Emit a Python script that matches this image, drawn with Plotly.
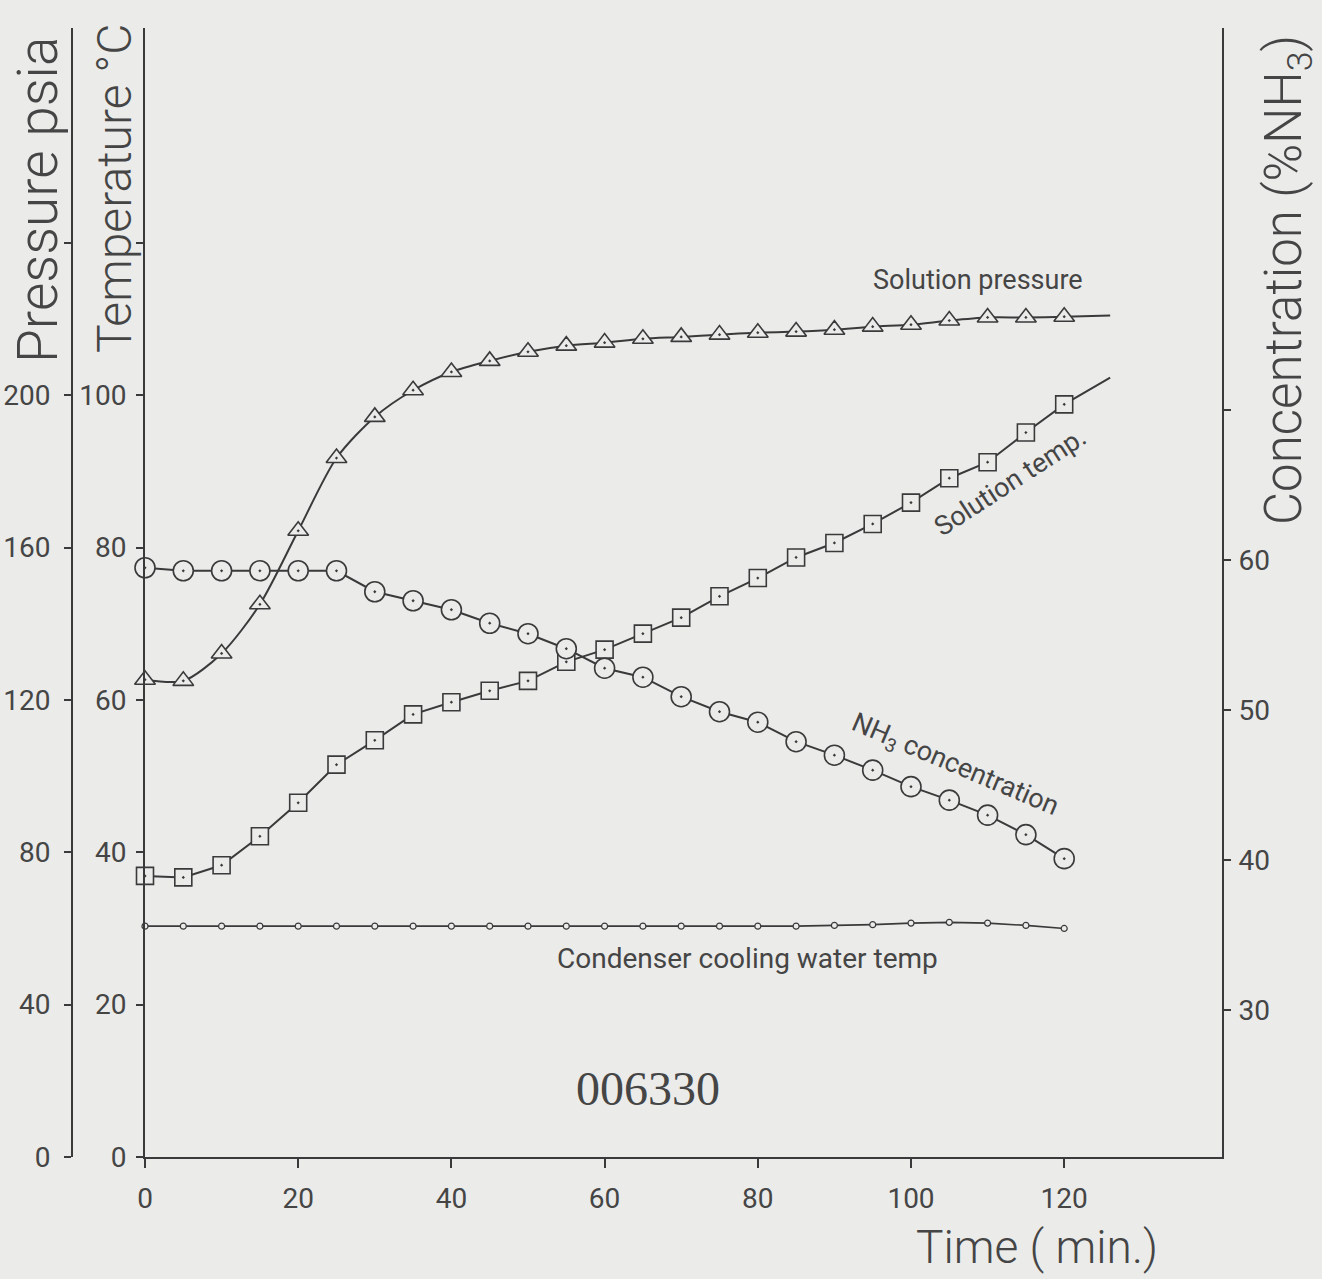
import plotly.graph_objects as go

# ---------------- data ----------------
time_min = [0, 5, 10, 15, 20, 25, 30, 35, 40, 45, 50, 55, 60,
            65, 70, 75, 80, 85, 90, 95, 100, 105, 110, 115, 120]

solution_pressure_psia = [125.3, 125.0, 132.2, 145.1, 164.4, 183.5, 194.3, 201.3,
                          206.1, 209.0, 211.4, 213.0, 213.8, 214.8, 215.3, 215.9,
                          216.4, 216.7, 217.2, 218.0, 218.5, 219.6, 220.4, 220.4, 220.6]

solution_temp_c = [36.9, 36.7, 38.3, 42.1, 46.5, 51.5, 54.7, 58.1, 59.7, 61.2,
                   62.5, 65.0, 66.6, 68.7, 70.8, 73.6, 76.0, 78.7, 80.6, 83.1,
                   85.9, 89.1, 91.2, 95.1, 98.8]

nh3_conc_pct = [59.5, 59.3, 59.3, 59.3, 59.3, 59.3, 57.9, 57.3, 56.7, 55.8,
                55.1, 54.1, 52.8, 52.2, 50.9, 49.9, 49.2, 47.9, 47.0, 46.0,
                44.9, 44.0, 43.0, 41.7, 40.1]

condenser_temp_c = [30.3, 30.3, 30.3, 30.3, 30.3, 30.3, 30.3, 30.3, 30.3, 30.3,
                    30.3, 30.3, 30.3, 30.3, 30.3, 30.3, 30.3, 30.3, 30.4, 30.5,
                    30.7, 30.8, 30.7, 30.4, 30.0]

# fitted curves continue a little past the last reading
curve_end_time = 126
pressure_curve_end = 220.9
temp_curve_end = 102.3

x_ticks = [0, 20, 40, 60, 80, 100, 120]
temp_ticks = [0, 20, 40, 60, 80, 100]
temp_unlabeled_ticks = [120]
pressure_ticks = [0, 40, 80, 120, 160, 200]
pressure_unlabeled_ticks = [240]
conc_ticks = [30, 40, 50, 60]
conc_unlabeled_ticks = [70]

# ---------------- style ----------------
W, H = 1322, 1279
BG = "#ebebea"
INK = "#3a3a3a"
TXT = "#454545"
FONT = "Roboto"


def px(x):
    return x / W


def py(y):
    return 1 - y / H


fig = go.Figure()

# Condenser cooling water temp
fig.add_trace(go.Scatter(
    x=time_min, y=condenser_temp_c, mode="lines+markers", yaxis="y",
    line=dict(color=INK, width=1.6),
    marker=dict(symbol="circle", size=6, color=BG, line=dict(color=INK, width=1.2)),
    showlegend=False, cliponaxis=False))

# Solution pressure: smooth curve + triangles
fig.add_trace(go.Scatter(
    x=time_min + [curve_end_time], y=solution_pressure_psia + [pressure_curve_end],
    mode="lines", yaxis="y2", line=dict(color=INK, width=2, shape="spline", smoothing=0.8),
    showlegend=False, cliponaxis=False))
fig.add_trace(go.Scatter(
    x=time_min, y=solution_pressure_psia, mode="markers", yaxis="y2",
    marker=dict(symbol="triangle-up-dot", size=18, color=BG, line=dict(color=INK, width=1.6)),
    showlegend=False, cliponaxis=False))

# Solution temperature: squares
fig.add_trace(go.Scatter(
    x=time_min + [curve_end_time], y=solution_temp_c + [temp_curve_end],
    mode="lines", yaxis="y", line=dict(color=INK, width=2),
    showlegend=False, cliponaxis=False))
fig.add_trace(go.Scatter(
    x=time_min, y=solution_temp_c, mode="markers", yaxis="y",
    marker=dict(symbol="square-dot", size=17, color=BG, line=dict(color=INK, width=1.6)),
    showlegend=False, cliponaxis=False))

# NH3 concentration: circles
fig.add_trace(go.Scatter(
    x=time_min, y=nh3_conc_pct, mode="lines+markers", yaxis="y3",
    line=dict(color=INK, width=2),
    marker=dict(symbol="circle-dot", size=20, color=BG, line=dict(color=INK, width=1.6)),
    showlegend=False, cliponaxis=False))

tickfont = dict(family=FONT, size=28, color=TXT, weight=400)


def minor(vals, ln=7):
    return dict(tickmode="array", tickvals=vals, ticks="outside", ticklen=ln,
                tickwidth=2, tickcolor=INK, showgrid=False)


y_dom = [py(1157), py(28)]

fig.update_layout(
    width=W, height=H,
    margin=dict(l=0, r=0, t=0, b=0, autoexpand=False),
    paper_bgcolor=BG, plot_bgcolor=BG,
    xaxis=dict(domain=[px(145), px(1222)], range=[0, 140.6],
               showline=True, linecolor=INK, linewidth=2, mirror=False,
               ticks="outside", ticklen=9, tickwidth=2, tickcolor=INK,
               tickvals=x_ticks, tickfont=tickfont, ticklabelstandoff=6,
               showgrid=False, zeroline=False, anchor="y", automargin=False),
    yaxis=dict(domain=y_dom, range=[0, 148.2],
               showline=True, linecolor=INK, linewidth=2,
               ticks="outside", ticklen=7, tickwidth=2, tickcolor=INK,
               tickvals=temp_ticks, tickfont=tickfont, ticklabelstandoff=4,
               minor=minor(temp_unlabeled_ticks),
               showgrid=False, zeroline=False, anchor="x", side="left",
               automargin=False),
    yaxis2=dict(domain=y_dom, range=[0, 296.4], overlaying="y",
                anchor="free", position=px(72), side="left",
                showline=True, linecolor=INK, linewidth=2,
                ticks="outside", ticklen=7, tickwidth=2, tickcolor=INK,
                tickvals=pressure_ticks, tickfont=tickfont, ticklabelstandoff=8,
                minor=minor(pressure_unlabeled_ticks),
                showgrid=False, zeroline=False, automargin=False),
    yaxis3=dict(domain=y_dom, range=[20.2, 95.5], overlaying="y",
                anchor="x", side="right",
                showline=True, linecolor=INK, linewidth=2,
                ticks="outside", ticklen=7, tickwidth=2, tickcolor=INK,
                tickvals=conc_ticks, tickfont=tickfont, ticklabelstandoff=2,
                minor=minor(conc_unlabeled_ticks),
                showgrid=False, zeroline=False, automargin=False),
)


def note(text, x, y, size, angle=0, family=FONT, weight=400):
    fig.add_annotation(text=text, x=px(x), y=py(y), xref="paper", yref="paper",
                       xanchor="center", yanchor="middle", showarrow=False,
                       textangle=angle,
                       font=dict(family=family, size=size, color=TXT, weight=weight))


note("Pressure psia", 38, 200, 55, -90, weight=300)
note("Temperature °C", 114, 188, 48, -90, weight=300)
note("Concentration (%NH<sub>3</sub>)", 1287, 280, 51, -90, weight=300)
note("Time ( min.)", 1037, 1247, 46, weight=300)
note("Solution pressure", 978, 280, 27)
note("Solution temp.", 1010, 482, 27, -33)
note("NH<sub>3</sub> concentration", 955, 766, 27, 23)
note("Condenser cooling water temp", 747, 958, 28)
note("006330", 648, 1088, 48, 0, "Liberation Serif")

fig.write_html("out.html")
